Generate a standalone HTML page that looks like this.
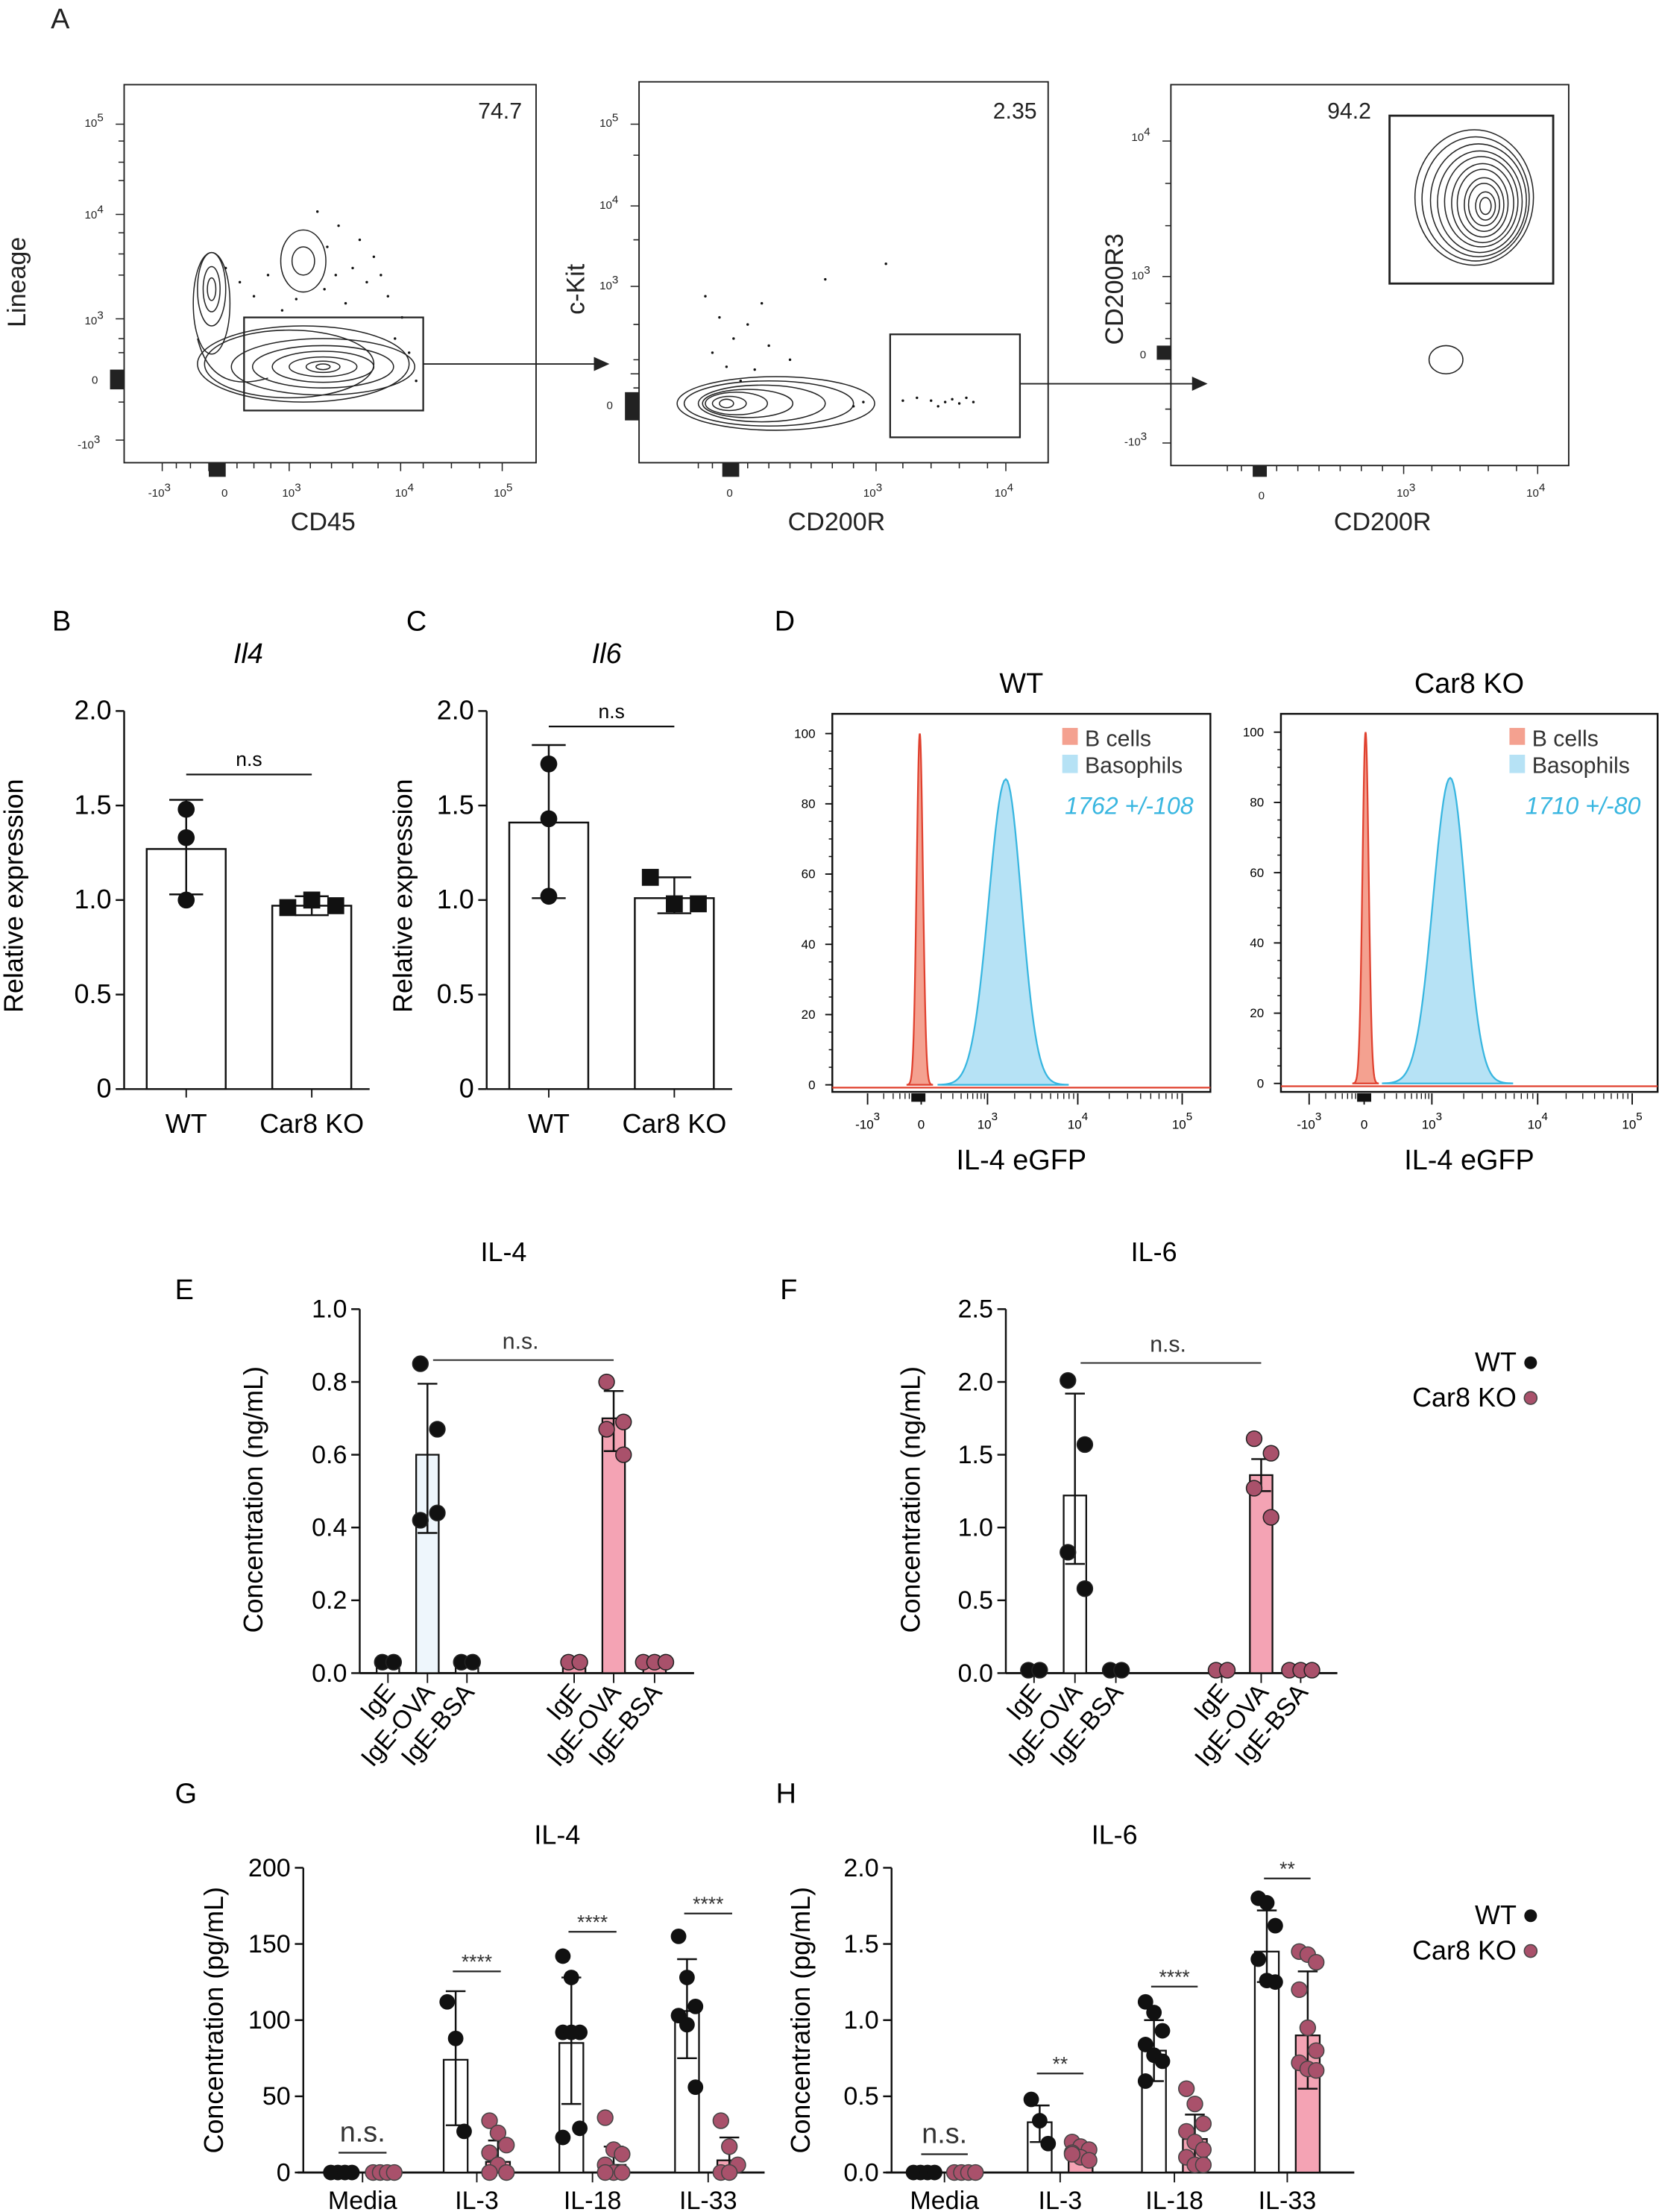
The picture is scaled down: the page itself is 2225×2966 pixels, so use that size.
<!DOCTYPE html>
<html><head><meta charset="utf-8"><style>
html,body{margin:0;padding:0;background:#fff;}
svg{display:block;font-family:"Liberation Sans",sans-serif;}
</style></head><body>
<svg id="fig" width="2225" height="2966" viewBox="0 0 1176 1568" preserveAspectRatio="none" xmlns="http://www.w3.org/2000/svg">
<rect width="1176" height="1568" fill="#fff"/>
<!-- Panel A -->
<g font-size="18" fill="#222">
<text x="36" y="20" font-size="20">A</text>
<rect x="88" y="60" width="292" height="268" fill="none" stroke="#222" stroke-width="1"/>
<text x="370" y="84" text-anchor="end" font-size="16">74.7</text>
<text x="229" y="376" text-anchor="middle">CD45</text>
<text transform="translate(18,200) rotate(-90)" text-anchor="middle">Lineage</text>
<g fill="none" stroke="#222" stroke-width="0.8">
<ellipse cx="229" cy="260" rx="65" ry="20"/><ellipse cx="229" cy="260" rx="50" ry="15"/><ellipse cx="229" cy="260" rx="36" ry="11"/><ellipse cx="229" cy="260" rx="24" ry="7"/><ellipse cx="229" cy="260" rx="12" ry="4"/><ellipse cx="229" cy="260" rx="5" ry="2"/>
<ellipse cx="205" cy="258" rx="60" ry="24"/><ellipse cx="215" cy="258" rx="75" ry="27"/>
<ellipse cx="150" cy="205" rx="10" ry="26"/><ellipse cx="150" cy="205" rx="6" ry="16"/><ellipse cx="150" cy="205" rx="3" ry="8"/><ellipse cx="150" cy="215" rx="13" ry="36"/>
<ellipse cx="215" cy="185" rx="16" ry="22"/><ellipse cx="215" cy="185" rx="8" ry="10"/>
<path d="M140 240 Q150 280 190 268"/>
</g>
<g fill="#111">
<circle cx="240" cy="160" r="0.9"/><circle cx="232" cy="175" r="0.9"/><circle cx="250" cy="190" r="0.9"/><circle cx="260" cy="200" r="0.9"/><circle cx="275" cy="210" r="0.9"/><circle cx="190" cy="195" r="0.9"/><circle cx="180" cy="210" r="0.9"/><circle cx="200" cy="220" r="0.9"/><circle cx="230" cy="205" r="0.9"/><circle cx="245" cy="215" r="0.9"/><circle cx="265" cy="182" r="0.9"/><circle cx="285" cy="225" r="0.9"/><circle cx="290" cy="250" r="0.9"/><circle cx="295" cy="270" r="0.9"/><circle cx="170" cy="200" r="0.9"/><circle cx="225" cy="150" r="0.9"/><circle cx="255" cy="170" r="0.9"/><circle cx="210" cy="212" r="0.9"/><circle cx="270" cy="195" r="0.9"/><circle cx="238" cy="195" r="0.9"/><circle cx="160" cy="190" r="0.9"/><circle cx="280" cy="240" r="0.9"/>
</g>
<rect x="173" y="225" width="127" height="66" fill="none" stroke="#222" stroke-width="1.2"/>
<line x1="300" y1="258" x2="422" y2="258" stroke="#222"/><polygon points="432,258 421,253 421,263" fill="#222"/>
<rect x="453" y="58" width="290" height="270" fill="none" stroke="#222"/>
<text x="735" y="84" text-anchor="end" font-size="16">2.35</text>
<text x="593" y="376" text-anchor="middle">CD200R</text>
<text transform="translate(414,205) rotate(-90)" text-anchor="middle">c-Kit</text>
<g fill="none" stroke="#222" stroke-width="0.8">
<ellipse cx="540" cy="286" rx="45" ry="13"/><ellipse cx="530" cy="286" rx="32" ry="10"/><ellipse cx="522" cy="286" rx="22" ry="8"/><ellipse cx="517" cy="286" rx="12" ry="5"/><ellipse cx="515" cy="286" rx="5" ry="3"/>
<ellipse cx="545" cy="286" rx="60" ry="16"/><ellipse cx="550" cy="286" rx="70" ry="19"/>
</g>
<g fill="#111">
<circle cx="500" cy="210" r="0.9"/><circle cx="510" cy="225" r="0.9"/><circle cx="520" cy="240" r="0.9"/><circle cx="530" cy="230" r="0.9"/><circle cx="505" cy="250" r="0.9"/><circle cx="545" cy="245" r="0.9"/><circle cx="560" cy="255" r="0.9"/><circle cx="515" cy="260" r="0.9"/><circle cx="540" cy="215" r="0.9"/><circle cx="585" cy="198" r="0.9"/><circle cx="628" cy="187" r="0.9"/><circle cx="650" cy="282" r="0.9"/><circle cx="660" cy="284" r="0.9"/><circle cx="670" cy="285" r="0.9"/><circle cx="675" cy="283" r="0.9"/><circle cx="680" cy="286" r="0.9"/><circle cx="685" cy="282" r="0.9"/><circle cx="690" cy="285" r="0.9"/><circle cx="665" cy="288" r="0.9"/><circle cx="640" cy="284" r="0.9"/><circle cx="612" cy="285" r="0.9"/><circle cx="605" cy="288" r="0.9"/><circle cx="525" cy="270" r="0.9"/><circle cx="535" cy="262" r="0.9"/>
</g>
<rect x="631" y="237" width="92" height="73" fill="none" stroke="#222" stroke-width="1.2"/>
<line x1="723" y1="272" x2="846" y2="272" stroke="#222"/><polygon points="856,272 845,267 845,277" fill="#222"/>
<rect x="830" y="60" width="282" height="270" fill="none" stroke="#222"/>
<text x="972" y="84" text-anchor="end" font-size="16">94.2</text>
<text x="980" y="376" text-anchor="middle">CD200R</text>
<text transform="translate(796,205) rotate(-90)" text-anchor="middle">CD200R3</text>
<g fill="none" stroke="#222" stroke-width="0.8">
<ellipse cx="1045" cy="140" rx="42" ry="48"/><ellipse cx="1046" cy="141" rx="38" ry="44"/><ellipse cx="1048" cy="142" rx="34" ry="40"/><ellipse cx="1049" cy="143" rx="30" ry="36"/><ellipse cx="1050" cy="143" rx="26" ry="32"/><ellipse cx="1051" cy="144" rx="22" ry="28"/><ellipse cx="1051" cy="144" rx="18" ry="24"/><ellipse cx="1052" cy="145" rx="14" ry="19"/><ellipse cx="1052" cy="145" rx="11" ry="15"/><ellipse cx="1053" cy="146" rx="7" ry="10"/><ellipse cx="1053" cy="146" rx="4" ry="6"/>
<ellipse cx="1025" cy="255" rx="12" ry="10"/>
</g>
<rect x="985" y="82" width="116" height="119" fill="none" stroke="#222" stroke-width="1.5"/>
<g stroke="#222" stroke-width="0.8">
<path d="M82 88h6M84 100h4M84 115h4M84 128h4M82 152h6M84 165h4M84 180h4M84 195h4M82 226h6M84 240h4M84 250h4M82 268h6M84 275h4M84 285h4M82 312h6"/>
<path d="M115 328v6M125 328v4M135 328v4M148 328v6M158 328v6M168 328v4M180 328v4M192 328v4M205 328v6M220 328v4M235 328v4M250 328v4M268 328v4M284 328v6M300 328v4M320 328v4M340 328v4M356 328v6"/>
<path d="M447 88h6M449 110h4M447 146h6M449 170h4M447 203h6M449 230h4M449 255h4M447 265h6M449 275h4M449 285h4M447 294h6"/>
<path d="M495 328v4M505 328v4M518 328v6M530 328v4M545 328v4M560 328v4M575 328v4M590 328v4M605 328v4M621 328v6M640 328v4M660 328v4M680 328v4M700 328v4M713 328v6"/>
<path d="M824 100h6M826 130h4M826 160h4M824 196h6M826 215h4M826 240h4M824 252h6M826 262h4M826 272h4M826 290h4M824 314h6"/>
<path d="M870 330v4M880 330v4M893 330v6M905 330v4M920 330v4M935 330v4M950 330v4M965 330v4M980 330v4M995 330v6M1015 330v4M1035 330v4M1055 330v4M1075 330v4M1090 330v6"/>
</g>
<g fill="#222">
<rect x="78" y="262" width="10" height="14"/><rect x="148" y="328" width="12" height="10"/>
<rect x="443" y="278" width="10" height="20"/><rect x="512" y="328" width="12" height="10"/>
<rect x="820" y="245" width="10" height="10"/><rect x="888" y="330" width="10" height="8"/>
</g>
<g font-size="8">
<text x="60" y="90">10<tspan dy="-4">5</tspan></text><text x="60" y="155">10<tspan dy="-4">4</tspan></text><text x="60" y="230">10<tspan dy="-4">3</tspan></text><text x="65" y="272">0</text><text x="55" y="318">-10<tspan dy="-4">3</tspan></text>
<text x="105" y="352">-10<tspan dy="-4">3</tspan></text><text x="157" y="352">0</text><text x="200" y="352">10<tspan dy="-4">3</tspan></text><text x="280" y="352">10<tspan dy="-4">4</tspan></text><text x="350" y="352">10<tspan dy="-4">5</tspan></text>
<text x="425" y="90">10<tspan dy="-4">5</tspan></text><text x="425" y="148">10<tspan dy="-4">4</tspan></text><text x="425" y="205">10<tspan dy="-4">3</tspan></text><text x="430" y="290">0</text>
<text x="515" y="352">0</text><text x="612" y="352">10<tspan dy="-4">3</tspan></text><text x="705" y="352">10<tspan dy="-4">4</tspan></text>
<text x="802" y="100">10<tspan dy="-4">4</tspan></text><text x="802" y="198">10<tspan dy="-4">3</tspan></text><text x="808" y="254">0</text><text x="797" y="316">-10<tspan dy="-4">3</tspan></text>
<text x="892" y="354">0</text><text x="990" y="352">10<tspan dy="-4">3</tspan></text><text x="1082" y="352">10<tspan dy="-4">4</tspan></text>
</g>
</g>
<g id="charts"></g>
</svg>
<script>
// ---------- Panel B / C data ----------
const bcCategories = ["WT", "Car8 KO"];
const il4RelMeans = [1.27, 0.97];
const il4RelErrLo = [1.03, 0.92];
const il4RelErrHi = [1.53, 1.02];
const il4RelPointsWT = [1.48, 1.33, 1.0];
const il4RelPointsKO = [0.96, 1.0, 0.97];
const il6RelMeans = [1.41, 1.01];
const il6RelErrLo = [1.01, 0.93];
const il6RelErrHi = [1.82, 1.12];
const il6RelPointsWT = [1.72, 1.43, 1.02];
const il6RelPointsKO = [1.12, 0.98, 0.98];
const bcTicks = [0, 0.5, 1.0, 1.5, 2.0];
const bcTickLabels = ["0", "0.5", "1.0", "1.5", "2.0"];
// ---------- Panel D data ----------
const histYTicks = [0, 20, 40, 60, 80, 100];
const histPeaksWT = [100, 87];
const histPeaksKO = [100, 87];
const histLegend = ["B cells", "Basophils"];
const histMfiLabels = ["1762 +/-108", "1710 +/-80"];
// ---------- Panel E / F data ----------
const efCategories = ["IgE", "IgE-OVA", "IgE-BSA", "IgE", "IgE-OVA", "IgE-BSA"];
const eMeans = [0.03, 0.6, 0.03, 0.03, 0.7, 0.03];
const eErrLo = [0.03, 0.385, 0.03, 0.03, 0.61, 0.03];
const eErrHi = [0.03, 0.795, 0.03, 0.03, 0.775, 0.03];
const ePoints = [[0.03,0.03],[0.85,0.67,0.42,0.44],[0.03,0.03],[0.03,0.03],[0.80,0.69,0.67,0.60],[0.03,0.03,0.03]];
const eTicks = [0, 0.2, 0.4, 0.6, 0.8, 1.0];
const eTickLabels = ["0.0", "0.2", "0.4", "0.6", "0.8", "1.0"];
const fMeans = [0.02, 1.22, 0.02, 0.02, 1.36, 0.02];
const fErrLo = [0.02, 0.75, 0.02, 0.02, 1.25, 0.02];
const fErrHi = [0.02, 1.92, 0.02, 0.02, 1.47, 0.02];
const fPoints = [[0.02,0.02],[2.01,1.57,0.83,0.58],[0.02,0.02],[0.02,0.02],[1.61,1.51,1.27,1.07],[0.02,0.02,0.02]];
const fTicks = [0, 0.5, 1.0, 1.5, 2.0, 2.5];
const fTickLabels = ["0.0", "0.5", "1.0", "1.5", "2.0", "2.5"];
// ---------- Panel G / H data ----------
const ghCategories = ["Media", "IL-3", "IL-18", "IL-33"];
const gMeansWT = [0, 74, 85, 106];
const gMeansKO = [0, 7, 5, 8];
const gErrWT = [[0,0],[31,119],[45,128],[75,140]];
const gErrKO = [[0,0],[0,21],[0,17],[0,23]];
const gPointsWT = [[0,0,0,0],[112,88,27],[142,128,92,92,92,29,23],[155,128,109,103,97,56]];
const gPointsKO = [[0,0,0,0],[34,26,18,13,5,0,0],[36,15,12,5,0,0,0],[34,17,5,0,0]];
const gSig = ["n.s.", "****", "****", "****"];
const gSigY = [13, 132, 158, 170];
const gTicks = [0, 50, 100, 150, 200];
const gTickLabels = ["0", "50", "100", "150", "200"];
const hMeansWT = [0, 0.33, 0.80, 1.45];
const hMeansKO = [0, 0.12, 0.22, 0.90];
const hErrWT = [[0,0],[0.2,0.44],[0.6,1.0],[1.25,1.72]];
const hErrKO = [[0,0],[0.08,0.17],[0.07,0.38],[0.55,1.32]];
const hPointsWT = [[0,0,0,0],[0.48,0.34,0.19],[1.12,1.05,0.93,0.84,0.77,0.73,0.6],[1.8,1.77,1.62,1.4,1.26,1.25]];
const hPointsKO = [[0,0,0,0],[0.2,0.17,0.15,0.13,0.1,0.08,0.12],[0.55,0.45,0.32,0.27,0.2,0.15,0.1,0.05,0.05],[1.45,1.43,1.38,1.2,0.95,0.8,0.72,0.68,0.67]];
const hSig = ["n.s.", "**", "****", "**"];
const hSigY = [0.12, 0.65, 1.22, 1.93];
const hTicks = [0, 0.5, 1.0, 1.5, 2.0];
const hTickLabels = ["0.0", "0.5", "1.0", "1.5", "2.0"];

const NS = "http://www.w3.org/2000/svg";
const root = document.getElementById("charts");
function mk(tag, attrs, parent, txt) {
  const e = document.createElementNS(NS, tag);
  for (const k in attrs) e.setAttribute(k, attrs[k]);
  if (txt !== undefined) e.textContent = txt;
  (parent || root).appendChild(e);
  return e;
}
function linScale(d0, d1, r0, r1) { return v => r0 + (v - d0) / (d1 - d0) * (r1 - r0); }
const KO = "#a9516b", KOfill = "#f4a3b4";

function yAxis(g, x, y, ticks, labels, fs) {
  mk("line", {x1:x, y1:y(ticks[ticks.length-1]), x2:x, y2:y(ticks[0]), stroke:"#111", "stroke-width":1.3}, g);
  ticks.forEach((t, i) => {
    mk("line", {x1:x-6, y1:y(t), x2:x, y2:y(t), stroke:"#111", "stroke-width":1.3}, g);
    const tl = mk("text", {x:x-9, y:y(t)+6, "text-anchor":"end", "font-size":fs}, g, labels[i]);
    
    
  });
}
function errBar(g, cx, lo, hi, y, w) {
  mk("line", {x1:cx, y1:y(lo), x2:cx, y2:y(hi), stroke:"#111", "stroke-width":1.3}, g);
  mk("line", {x1:cx-w, y1:y(lo), x2:cx+w, y2:y(lo), stroke:"#111", "stroke-width":1.3}, g);
  mk("line", {x1:cx-w, y1:y(hi), x2:cx+w, y2:y(hi), stroke:"#111", "stroke-width":1.3}, g);
}
function spread(n, i, step) { return (i - (n - 1) / 2) * step; }

// ---------- Panels B & C ----------
function relPanel(opt, means, lo, hi, pw, pk) {
  const g = mk("g", {});
  
  
  const y = linScale(0, 2, 772, 504);
  mk("text", {x:opt.lx, y:447, "font-size":20}, g, opt.letter);
  mk("text", {x:opt.tx, y:470, "font-size":20, "font-style":"italic", "text-anchor":"middle"}, g, opt.title);
  mk("text", {transform:`translate(${opt.ylx},635) rotate(-90)`, "text-anchor":"middle", "font-size":19}, g, "Relative expression");
  yAxis(g, opt.ax, y, bcTicks, bcTickLabels, 19);
  mk("line", {x1:opt.ax, y1:772, x2:opt.ax+174, y2:772, stroke:"#111", "stroke-width":1.3}, g);
  bcCategories.forEach((c, i) => {
    const cx = opt.cx[i];
    const b = mk("rect", {x:cx-28, y:y(means[i]), width:56, height:772-y(means[i]), fill:"#fff", stroke:"#111", "stroke-width":1.3}, g);
    
    
    errBar(g, cx, lo[i], hi[i], y, 12);
    mk("line", {x1:cx, y1:772, x2:cx, y2:778, stroke:"#111"}, g);
    const t = mk("text", {x:cx, y:803, "text-anchor":"middle", "font-size":19}, g, c);
    
    
  });
  pw.forEach((v, j) => { const p = mk("circle", {cx:opt.cx[0], cy:y(v), r:6, fill:"#111"}, g);
      });
  pk.forEach((v, j) => { const p = mk("rect", {x:opt.cx[1]+spread(pk.length,j,17)-6, y:y(v)-6, width:12, height:12, fill:"#111"}, g);
      });
  mk("line", {x1:opt.cx[0], y1:opt.sy, x2:opt.cx[1], y2:opt.sy, stroke:"#111", "stroke-width":1.2}, g);
  mk("text", {x:(opt.cx[0]+opt.cx[1])/2, y:opt.sy-6, "text-anchor":"middle", "font-size":14}, g, "n.s");
}
relPanel({name:"panel-b-il4-chart", letter:"B", lx:37, tx:176, title:"Il4", ylx:16, ax:88, cx:[132,221], sy:549}, il4RelMeans, il4RelErrLo, il4RelErrHi, il4RelPointsWT, il4RelPointsKO);
relPanel({name:"panel-c-il6-chart", letter:"C", lx:288, tx:430, title:"Il6", ylx:292, ax:345, cx:[389,478], sy:515}, il6RelMeans, il6RelErrLo, il6RelErrHi, il6RelPointsWT, il6RelPointsKO);

// ---------- Panel D ----------
function histPanel(opt, peaks, mfi) {
  const g = mk("g", {});
  
  
  const y = linScale(0, 100, opt.y0, opt.y100);
  mk("text", {x:(opt.x0+opt.x1)/2, y:491, "text-anchor":"middle", "font-size":20}, g, opt.title);
  mk("rect", {x:opt.x0, y:506, width:opt.x1-opt.x0, height:774-506, fill:"none", stroke:"#111", "stroke-width":1.3}, g);
  histYTicks.forEach(t => {
    mk("line", {x1:opt.x0-5, y1:y(t), x2:opt.x0, y2:y(t), stroke:"#111"}, g);
    const tl = mk("text", {x:opt.x0-12, y:y(t)+3, "text-anchor":"end", "font-size":9}, g, String(t));
     
  });
  for (let k = 0; k < 25; k++) {
    const yy = opt.y0 - k * (opt.y0 - opt.y100) / 20;
    if (yy > 508) mk("line", {x1:opt.x0-2.5, y1:yy, x2:opt.x0, y2:yy, stroke:"#111", "stroke-width":0.8}, g);
  }
  function curve(center, width, h, color, fill, skew) {
    let d = `M${center-width*4} ${opt.y0}`;
    for (let k = -40; k <= 40; k++) {
      const u = k / 10, w = u < 0 ? width*(skew||1) : width;
      const xx = center + u * w;
      d += ` L${xx.toFixed(2)} ${(opt.y0 - (opt.y0-opt.y100) * h / 100 * Math.exp(-u*u/2)).toFixed(2)}`;
    }
    d += ` L${center+width*4} ${opt.y0} Z`;
    return mk("path", {d, fill, stroke:color, "stroke-width":1.2}, g);
  }
  const bl = curve(opt.bc, 11, peaks[1], "#38b6e0", "#b6e2f5", 1.1);
   
  const rd = curve(opt.rc, 2.2, peaks[0], "#e0412f", "#f4a190", 1);
   
  mk("line", {x1:opt.x0, y1:opt.y0+2, x2:opt.x1, y2:opt.y0+2, stroke:"#e0412f", "stroke-width":1.2}, g);
  opt.xt.forEach((xx, i) => {
    mk("line", {x1:xx, y1:775, x2:xx, y2:783, stroke:"#111"}, g);
    const tl = mk("text", {x:xx, y:800, "text-anchor":"middle", "font-size":9}, g, ["-10","0","10","10","10"][i]);
    if (i != 1) mk("tspan", {dy:-6, "font-size":8}, tl, ["3","","3","4","5"][i]);
     
    if (i < 4) {
      const nx = opt.xt[i+1];
      for (let k = 1; k < 9; k++) { const mx = xx + (nx - xx) * Math.log10(k + 1);
        mk("line", {x1:mx, y1:775, x2:mx, y2:779, stroke:"#111", "stroke-width":0.7}, g); }
    }
  });
  mk("rect", {x:opt.rc-6, y:775, width:10, height:6, fill:"#111"}, g);
  mk("text", {x:(opt.x0+opt.x1)/2, y:829, "text-anchor":"middle", "font-size":20}, g, "IL-4 eGFP");
  const lx = opt.x1 - 105;
  mk("rect", {x:lx, y:516, width:11, height:12, fill:"#f4a190"}, g);
  mk("text", {x:lx+16, y:529, "font-size":16, fill:"#333"}, g, histLegend[0]);
  mk("rect", {x:lx, y:535, width:11, height:13, fill:"#b6e2f5"}, g);
  mk("text", {x:lx+16, y:548, "font-size":16, fill:"#333"}, g, histLegend[1]);
  const m = mk("text", {x:opt.x1-12, y:577, "text-anchor":"end", "font-size":17, "font-style":"italic", fill:"#38b6e0"}, g, mfi);
   
}
mk("text", {x:549, y:447, "font-size":20}, root, "D");
histPanel({name:"panel-d-wt-histogram", title:"WT", x0:590, x1:858, y0:769, y100:520, rc:652, bc:713, xt:[615,653,700,764,838]}, histPeaksWT, histMfiLabels[0]);
histPanel({name:"panel-d-ko-histogram", title:"Car8 KO", x0:908, x1:1175, y0:768, y100:519, rc:968, bc:1028, xt:[928,967,1015,1090,1157]}, histPeaksKO, histMfiLabels[1]);

// ---------- Panels E & F ----------
function efPanel(opt, means, lo, hi, pts, ticks, labels) {
  const g = mk("g", {});
  
  
  const y = linScale(0, ticks[ticks.length-1], 1186, 928);
  mk("text", {x:opt.lx, y:921, "font-size":20}, g, opt.letter);
  mk("text", {x:opt.tx, y:894, "text-anchor":"middle", "font-size":19}, g, opt.title);
  mk("text", {transform:`translate(${opt.ylx},1063) rotate(-90)`, "text-anchor":"middle", "font-size":19}, g, "Concentration (ng/mL)");
  yAxis(g, opt.ax, y, ticks, labels, 18);
  mk("line", {x1:opt.ax, y1:1186, x2:opt.xe, y2:1186, stroke:"#111", "stroke-width":1.5}, g);
  efCategories.forEach((c, i) => {
    const cx = opt.cx[i], ko = i >= 3;
    const fill = ko ? KOfill : (i == 1 ? opt.wtFill : "#fff");
    const b = mk("rect", {x:cx-8, y:y(means[i]), width:16, height:1186-y(means[i]), fill, stroke:"#111", "stroke-width":1.2}, g);
    
    
    if (i == 1 || i == 4) errBar(g, cx, lo[i], hi[i], y, 7);
    mk("line", {x1:cx, y1:1186, x2:cx, y2:1193, stroke:"#111"}, g);
    const t = mk("text", {transform:`translate(${cx+6},1200) rotate(-50)`, "text-anchor":"end", "font-size":18}, g, c);
    
    
    pts[i].forEach((v, j) => {
      const off = (i == 1 || i == 4) ? (j % 2 ? 7 : -5) : spread(pts[i].length, j, 8);
      const p = mk("circle", {cx:cx+off, cy:y(v), r:5.5, fill: ko ? KO : "#111", stroke:"#222", "stroke-width":0.8}, g);
      
      
    });
  });
  mk("line", {x1:opt.cx[1]+4, y1:y(opt.sig), x2:opt.cx[4], y2:y(opt.sig), stroke:"#222", "stroke-width":1}, g);
  mk("text", {x:(opt.cx[1]+opt.cx[4])/2, y:y(opt.sig)-8, "text-anchor":"middle", "font-size":16, fill:"#333"}, g, "n.s.");
}
efPanel({name:"panel-e-il4-chart", letter:"E", lx:124, tx:357, title:"IL-4", ylx:186, ax:255, xe:492, cx:[275,303,331,407,435,464], sig:0.86, wtFill:"#eef6fc"}, eMeans, eErrLo, eErrHi, ePoints, eTicks, eTickLabels);
efPanel({name:"panel-f-il6-chart", letter:"F", lx:553, tx:818, title:"IL-6", ylx:652, ax:713, xe:948, cx:[733,762,791,866,894,922], sig:2.13, wtFill:"#fff"}, fMeans, fErrLo, fErrHi, fPoints, fTicks, fTickLabels);

// ---------- Panels G & H ----------
function ghPanel(opt, mW, mK, eW, eK, pW, pK, sig, sigY, ticks, labels) {
  const g = mk("g", {});
  
  
  const y = linScale(0, ticks[ticks.length-1], 1540, 1324);
  mk("text", {x:opt.lx, y:1278, "font-size":20}, g, opt.letter);
  mk("text", {x:opt.tx, y:1307, "text-anchor":"middle", "font-size":19}, g, opt.title);
  mk("text", {transform:`translate(${opt.ylx},1432) rotate(-90)`, "text-anchor":"middle", "font-size":19}, g, "Concentration (pg/mL)");
  yAxis(g, opt.ax, y, ticks, labels, 18);
  mk("line", {x1:opt.ax-4, y1:1540, x2:opt.xe, y2:1540, stroke:"#111", "stroke-width":1.5}, g);
  ghCategories.forEach((c, i) => {
    const cw = opt.cx[i], ck = cw + opt.gap;
    if (mW[i] > 0) {
      const b = mk("rect", {x:cw-8.5, y:y(mW[i]), width:17, height:1540-y(mW[i]), fill:"#fff", stroke:"#111", "stroke-width":1.2}, g);
       
      errBar(g, cw, eW[i][0], eW[i][1], y, 7);
    }
    if (mK[i] > 0) {
      const b = mk("rect", {x:ck-8.5, y:y(mK[i]), width:17, height:1540-y(mK[i]), fill:KOfill, stroke:"#111", "stroke-width":1.2}, g);
       
      errBar(g, ck, eK[i][0], eK[i][1], y, 7);
    }
    mk("line", {x1:(cw+ck)/2, y1:1540, x2:(cw+ck)/2, y2:1547, stroke:"#111"}, g);
    const t = mk("text", {x:(cw+ck)/2, y:1566, "text-anchor":"middle", "font-size":18}, g, c);
     
    pW[i].forEach((v, j) => {
      const off = i == 0 ? spread(pW[i].length, j, 5) : (j % 3 - 1) * 6;
      const p = mk("circle", {cx:cw+off, cy:y(v), r:5.5, fill:"#111"}, g);
       
    });
    pK[i].forEach((v, j) => {
      const off = i == 0 ? spread(pK[i].length, j, 5) : (j % 3 - 1) * 6;
      const p = mk("circle", {cx:ck+off, cy:y(v), r:5.5, fill:KO, stroke:"#444", "stroke-width":0.8}, g);
       
    });
    mk("line", {x1:cw-2, y1:y(sigY[i]), x2:ck+2, y2:y(sigY[i]), stroke:"#222", "stroke-width":1.2}, g);
    const s = mk("text", {x:(cw+ck)/2, y:y(sigY[i]) - (sig[i]=="n.s." ? 8 : 2), "text-anchor":"middle", "font-size":sig[i]=="n.s." ? 20 : 14, fill:"#333"}, g, sig[i]);
     
  });
}
ghPanel({name:"panel-g-il4-chart", letter:"G", lx:124, tx:395, title:"IL-4", ylx:158, ax:215, xe:542, cx:[242,323,405,487], gap:30}, gMeansWT, gMeansKO, gErrWT, gErrKO, gPointsWT, gPointsKO, gSig, gSigY, gTicks, gTickLabels);
ghPanel({name:"panel-h-il6-chart", letter:"H", lx:550, tx:790, title:"IL-6", ylx:574, ax:632, xe:960, cx:[655,737,818,898], gap:29}, hMeansWT, hMeansKO, hErrWT, hErrKO, hPointsWT, hPointsKO, hSig, hSigY, hTicks, hTickLabels);

// ---------- Legends ----------
function legend(y0, nm) {
  const g = mk("g", {});
  
  
  mk("text", {x:1075, y:y0+6, "text-anchor":"end", "font-size":19}, g, "WT");
  mk("circle", {cx:1085, cy:y0, r:4.5, fill:"#111"}, g);
  mk("text", {x:1075, y:y0+31, "text-anchor":"end", "font-size":19}, g, "Car8 KO");
  mk("circle", {cx:1085, cy:y0+25, r:4.5, fill:KO, stroke:"#444", "stroke-width":0.8}, g);
}
legend(966, "legend-ef");
legend(1358, "legend-gh");
</script>
</body></html>
